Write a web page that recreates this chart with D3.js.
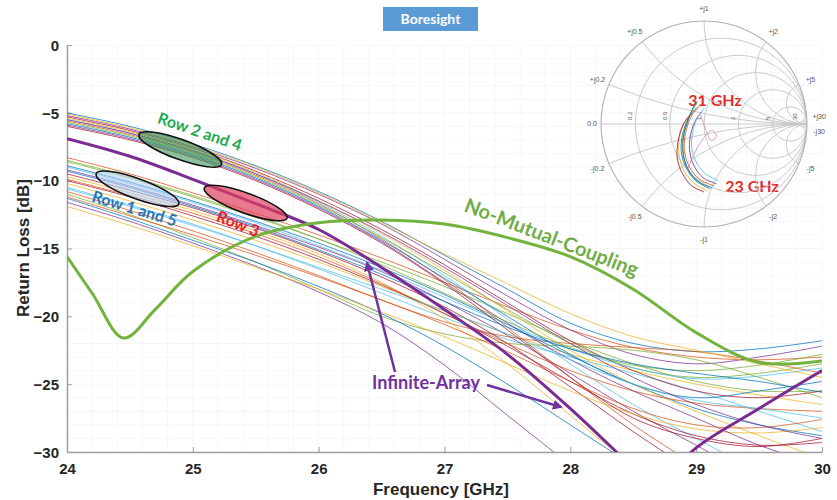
<!DOCTYPE html>
<html>
<head>
<meta charset="utf-8">
<script src="https://d3js.org/d3.v7.min.js"></script>
<style>
  body { margin: 0; background: #fff; }
  svg text { font-family: "Liberation Sans Narrow", "Arial Narrow", "Liberation Sans", sans-serif; }
  .note { font-family: Lato, "Open Sans", sans-serif; font-weight: bold; }
</style>
</head>
<body>
<svg id="chart" width="837" height="500"></svg>
<script>
// frequency samples (GHz) used by the thin element curves
const freqs = [24, 24.5, 25, 25.5, 26, 26.5, 27, 27.5, 28, 28.5, 29, 29.5, 30];

// rows 2 and 4 (upper bundle)
const rowTwoFour = [
  [-5.0, -6.0, -7.3, -8.9, -10.8, -13.0, -15.5, -18.0, -20.5, -22.0, -22.6, -22.4, -21.8],
  [-5.2, -6.2, -7.5, -9.1, -11.0, -13.2, -15.8, -18.5, -21.0, -22.8, -23.5, -23.0, -22.2],
  [-5.3, -6.3, -7.6, -9.3, -11.3, -13.6, -16.2, -19.0, -21.8, -24.0, -25.5, -26.0, -25.5],
  [-5.4, -6.4, -7.7, -9.4, -11.5, -13.9, -16.6, -19.6, -22.5, -25.0, -27.0, -28.8, -30.5],
  [-5.5, -6.5, -7.8, -9.5, -11.6, -14.1, -17.0, -20.2, -23.5, -26.5, -29.0, -31.5, -34.0],
  [-5.6, -6.6, -7.9, -9.6, -11.7, -14.3, -17.3, -20.8, -24.5, -28.0, -31.0, -34.0, -36.0],
  [-5.7, -6.7, -8.0, -9.7, -11.8, -14.2, -16.8, -19.5, -22.0, -23.8, -24.5, -24.2, -23.5],
  [-5.8, -6.8, -8.1, -9.8, -11.9, -14.4, -17.2, -20.0, -22.8, -25.0, -26.0, -25.5, -24.8],
  [-5.9, -6.9, -8.2, -9.9, -12.0, -14.5, -17.5, -20.5, -23.2, -25.5, -27.5, -29.5, -31.0],
  [-6.0, -7.0, -8.3, -10.0, -12.1, -14.6, -17.6, -21.0, -24.5, -27.5, -29.0, -29.6, -29.0],
  [-5.1, -6.1, -7.4, -9.0, -10.9, -13.1, -15.4, -17.6, -19.8, -21.5, -22.5, -23.5, -24.5],
  [-5.5, -6.5, -7.8, -9.5, -11.5, -13.8, -16.4, -19.2, -22.0, -24.5, -26.5, -28.0, -29.0]
];

// rows 1 and 5 (middle bundle)
const rowOneFive = [
  [-8.3, -9.5, -10.9, -12.4, -14.0, -15.7, -17.5, -19.3, -21.0, -22.3, -23.0, -23.2, -23.0],
  [-8.6, -9.8, -11.2, -12.7, -14.3, -16.0, -17.8, -19.8, -21.8, -23.5, -24.8, -25.5, -25.5],
  [-8.9, -10.1, -11.5, -13.0, -14.6, -16.4, -18.4, -20.6, -22.9, -25.0, -26.8, -28.0, -28.8],
  [-9.2, -10.4, -11.8, -13.3, -14.9, -16.7, -18.9, -21.4, -24.2, -27.0, -29.5, -32.0, -34.0],
  [-9.5, -10.7, -12.0, -13.5, -15.2, -17.1, -19.3, -22.0, -25.2, -28.5, -31.5, -34.0, -36.0],
  [-9.7, -10.9, -12.2, -13.7, -15.4, -17.5, -20.2, -23.5, -27.3, -31.0, -34.0, -36.0, -38.0],
  [-9.0, -10.2, -11.6, -13.1, -14.8, -16.6, -18.6, -20.6, -22.4, -23.8, -24.6, -24.4, -23.8],
  [-9.9, -11.1, -12.4, -13.9, -15.6, -17.6, -19.8, -22.0, -24.0, -25.5, -26.4, -26.8, -27.0],
  [-8.5, -9.7, -11.1, -12.6, -14.3, -16.2, -18.3, -20.4, -22.3, -23.6, -24.0, -23.6, -22.8],
  [-9.3, -10.5, -11.9, -13.4, -15.1, -16.9, -18.9, -20.8, -22.4, -23.5, -24.2, -24.8, -25.6]
];

// row 3 and remaining elements (lower bundle)
const rowThree = [
  [-10.2, -11.5, -12.9, -14.4, -16.0, -17.8, -19.6, -21.3, -22.8, -24.0, -25.0, -25.8, -26.5],
  [-10.5, -11.8, -13.2, -14.8, -16.5, -18.3, -20.1, -21.7, -23.0, -24.2, -25.5, -27.0, -28.5],
  [-10.8, -12.2, -13.7, -15.3, -17.0, -18.8, -20.4, -21.5, -22.0, -22.3, -22.6, -23.3, -24.2],
  [-11.0, -12.5, -14.2, -16.0, -18.0, -20.0, -21.3, -22.0, -22.2, -22.5, -23.2, -24.5, -26.0],
  [-11.3, -12.8, -14.4, -16.0, -17.8, -19.8, -22.2, -25.0, -28.0, -31.0, -34.0, -36.0, -38.0],
  [-11.6, -13.0, -14.6, -16.3, -18.2, -20.5, -23.6, -27.3, -31.0, -35.0, -38.0, -40.0, -42.0],
  [-10.0, -11.2, -12.6, -14.1, -15.8, -17.7, -19.8, -22.2, -24.8, -27.2, -28.8, -29.5, -29.3],
  [-11.9, -13.3, -14.8, -16.4, -18.0, -19.7, -21.5, -23.5, -25.5, -27.2, -28.3, -28.6, -28.2],
  [-10.6, -11.9, -13.3, -14.8, -16.4, -18.0, -19.6, -21.3, -23.2, -25.0, -26.2, -26.8, -27.5],
  [-11.2, -12.6, -14.0, -15.5, -17.1, -18.8, -20.6, -22.6, -24.8, -26.8, -28.0, -28.2, -27.6]
];

// single element, no mutual coupling
const ncFreqs = [24, 24.2, 24.45, 24.7, 25, 25.5, 26, 26.5, 27, 27.5, 28, 28.5, 29, 29.5, 30];
const noCoupling = [-15.6, -18.3, -21.6, -19.5, -16.7, -14.1, -13.1, -12.9, -13.2, -14.2, -15.6, -18.0, -21.2, -23.4, -23.3];

// infinite array
const iaFreqs = [24, 24.5, 25, 25.5, 26, 26.5, 27, 27.5, 28, 28.4, 28.7, 28.96, 29.5, 30];
const infiniteArray = [-6.9, -8.2, -9.9, -11.7, -13.6, -16.4, -19.5, -22.8, -26.8, -30.3, -33, -30, -26.8, -24.0];

const xTicks = [24, 25, 26, 27, 28, 29, 30];
const yTicks = [0, -5, -10, -15, -20, -25, -30];

// smith chart inset: reflection coefficient traces [re, im], 23 -> 31 GHz
const smithCurves = [
  [[0.06, -0.63], [-0.08, -0.55], [-0.17, -0.43], [-0.22, -0.27], [-0.21, -0.11], [-0.15, 0.06], [-0.07, 0.16]],
  [[0.10, -0.60], [-0.04, -0.54], [-0.14, -0.42], [-0.19, -0.26], [-0.18, -0.09], [-0.12, 0.08], [-0.04, 0.18]],
  [[0.04, -0.65], [-0.09, -0.58], [-0.19, -0.46], [-0.24, -0.31], [-0.24, -0.14], [-0.18, 0.03], [-0.10, 0.14]],
  [[0.12, -0.58], [-0.01, -0.52], [-0.10, -0.40], [-0.14, -0.25], [-0.13, -0.10], [-0.08, 0.04], [-0.02, 0.12]],
  [[0.02, -0.61], [-0.10, -0.52], [-0.18, -0.38], [-0.21, -0.22], [-0.19, -0.06], [-0.13, 0.10], [-0.06, 0.22]],
  [[0.14, -0.55], [0.01, -0.48], [-0.08, -0.36], [-0.12, -0.22], [-0.11, -0.08], [-0.07, 0.05], [0.00, 0.15]],
  [[0.00, -0.66], [-0.12, -0.60], [-0.21, -0.48], [-0.26, -0.33], [-0.25, -0.16], [-0.20, 0.00], [-0.12, 0.10]],
  [[0.08, -0.62], [-0.05, -0.56], [-0.15, -0.45], [-0.20, -0.30], [-0.20, -0.13], [-0.16, 0.02], [-0.09, 0.20]],
  [[-0.16, -0.45], [-0.10, -0.30], [-0.02, -0.16], [0.08, -0.06], [0.12, -0.12], [0.07, -0.16], [0.02, -0.06], [-0.04, 0.10]]
];
const smithR = [0.2, 0.5, 1, 2, 5, 30];
const smithX = [0.2, 0.5, 1, 2, 5, 30];

const palette = ["#0072BD", "#D95319", "#EDB120", "#7E2F8E", "#77AC30", "#4DBEEE", "#A2142F"];

const svg = d3.select("#chart");
const x = d3.scaleLinear().domain([24, 30]).range([67, 822]);
const y = d3.scaleLinear().domain([-30, 0]).range([452, 45]);

// faint grid
const grid = svg.append("g");
grid.selectAll("line.vx").data(d3.range(24, 30.01, 0.2))
  .join("line").attr("x1", d => x(d)).attr("x2", d => x(d)).attr("y1", 45).attr("y2", 452)
  .attr("stroke", "#f6f6f6");
grid.selectAll("line.hy").data(d3.range(-30, 0.01, 1))
  .join("line").attr("x1", 67).attr("x2", 822).attr("y1", d => y(d)).attr("y2", d => y(d))
  .attr("stroke", "#f6f6f6");

svg.append("clipPath").attr("id", "plot")
  .append("rect").attr("x", 67).attr("y", 45).attr("width", 755).attr("height", 407);

// axes
const xAxis = svg.append("g").attr("transform", "translate(0,452)")
  .call(d3.axisBottom(x).tickValues(xTicks).tickFormat(d3.format("d")).tickSizeInner(-5).tickSizeOuter(0));
const yAxis = svg.append("g").attr("transform", "translate(67,0)")
  .call(d3.axisLeft(y).tickValues(yTicks).tickFormat(d3.format("d")).tickSizeInner(-5).tickSizeOuter(0));
[xAxis, yAxis].forEach(a => {
  a.select(".domain").attr("stroke", "#a0a0a0").attr("stroke-width", 1.5);
  a.selectAll(".tick line").attr("stroke", "#a0a0a0");
  a.selectAll("text").attr("fill", "#262626").style("font-size", "15px").style("font-weight", "bold");
});
xAxis.selectAll("text").attr("dy", "1.25em");
yAxis.selectAll("text").attr("x", -8).attr("dy", "0.35em");

svg.append("text").attr("x", 441).attr("y", 495).attr("text-anchor", "middle")
  .style("font-size", "17px").style("font-weight", "bold").attr("fill", "#262626")
  .text("Frequency [GHz]");
svg.append("text").attr("transform", "translate(29,248) rotate(-90)").attr("text-anchor", "middle")
  .style("font-size", "17px").style("font-weight", "bold").attr("fill", "#262626")
  .text("Return Loss [dB]");

// curves
const line = d3.line().curve(d3.curveCatmullRom.alpha(0.5));
const plot = svg.append("g").attr("clip-path", "url(#plot)");

const thin = [];
for (let i = 0; i < 12; i++) {
  if (rowTwoFour[i]) thin.push(rowTwoFour[i]);
  if (rowOneFive[i]) thin.push(rowOneFive[i]);
  if (rowThree[i]) thin.push(rowThree[i]);
}
plot.selectAll("path.elem").data(thin).join("path")
  .attr("fill", "none")
  .attr("stroke", (d, i) => palette[i % palette.length])
  .attr("stroke-width", 1)
  .attr("stroke-opacity", 0.75)
  .attr("d", vals => line(vals.map((v, j) => [x(freqs[j]), y(v)])));

plot.append("path").attr("fill", "none").attr("stroke", "#7b2c92").attr("stroke-width", 3)
  .attr("d", line(infiniteArray.map((v, j) => [x(iaFreqs[j]), y(v)])));
plot.append("path").attr("fill", "none").attr("stroke", "#72b33d").attr("stroke-width", 3)
  .attr("d", line(noCoupling.map((v, j) => [x(ncFreqs[j]), y(v)])));

// row ellipses
const ellipses = [
  { f: 24.9, v: -7.7, fill: "#3d9a5c", op: 0.6 },
  { f: 24.56, v: -10.6, fill: "#b4d0ee", op: 0.6 },
  { f: 25.42, v: -11.65, fill: "#e0405e", op: 0.7 }
];
svg.selectAll("ellipse.row").data(ellipses).join("ellipse")
  .attr("transform", d => `translate(${x(d.f)},${y(d.v)}) rotate(20)`)
  .attr("rx", 44).attr("ry", 10)
  .attr("fill", d => d.fill).attr("fill-opacity", d => d.op)
  .attr("stroke", "#111").attr("stroke-width", 1.6);

const notes = [
  { t: "Row 2 and 4", px: 198, py: 137, a: 19, c: "#1fa951", s: 16 },
  { t: "Row 1 and 5", px: 133, py: 214, a: 17, c: "#2e75b6", s: 16 },
  { t: "Row 3", px: 236, py: 229, a: 22, c: "#e8202a", s: 16 },
  { t: "No-Mutual-Coupling", px: 549, py: 244, a: 21, c: "#70ad47", s: 20 },
  { t: "Infinite-Array", px: 426, py: 389, a: 0, c: "#7030a0", s: 18 },
  { t: "31 GHz", px: 715, py: 106, a: 0, c: "#e02b2b", s: 16 },
  { t: "23 GHz", px: 752, py: 192, a: 0, c: "#e02b2b", s: 16 }
];
svg.selectAll("text.note").data(notes).join("text").attr("class", "note")
  .attr("transform", d => `translate(${d.px},${d.py}) rotate(${d.a})`)
  .attr("text-anchor", "middle").attr("fill", d => d.c)
  .style("font-size", d => d.s + "px").text(d => d.t);

// arrows
svg.append("defs").append("marker").attr("id", "head")
  .attr("viewBox", "0 0 10 10").attr("refX", 8).attr("refY", 5)
  .attr("markerWidth", 4).attr("markerHeight", 4).attr("orient", "auto")
  .append("path").attr("d", "M0,0L10,5L0,10z").attr("fill", "#7030a0");
const arrows = [[395, 372, 367, 263], [487, 385, 561, 407]];
svg.selectAll("line.arrow").data(arrows).join("line")
  .attr("x1", d => d[0]).attr("y1", d => d[1]).attr("x2", d => d[2]).attr("y2", d => d[3])
  .attr("stroke", "#7030a0").attr("stroke-width", 2.5).attr("marker-end", "url(#head)");

// boresight tag
svg.append("rect").attr("x", 383).attr("y", 7).attr("width", 95).attr("height", 24).attr("fill", "#5b9bd5");
svg.append("text").attr("class", "note").attr("x", 430.5).attr("y", 24).attr("text-anchor", "middle")
  .attr("fill", "#fff").style("font-size", "14px").text("Boresight");

// smith chart inset
const gx = d3.scaleLinear().domain([-1, 1]).range([601, 807]);
const gy = d3.scaleLinear().domain([-1, 1]).range([227, 21]);
const R = 103;
const smith = svg.append("g");
smith.append("clipPath").attr("id", "disk")
  .append("circle").attr("cx", gx(0)).attr("cy", gy(0)).attr("r", R);
const sg = smith.append("g").attr("clip-path", "url(#disk)").attr("fill", "none")
  .attr("stroke", "#c4c4c4").attr("stroke-width", 0.9);
sg.selectAll("circle.r").data(smithR).join("circle")
  .attr("cx", r => gx(r / (1 + r))).attr("cy", gy(0)).attr("r", r => R / (1 + r));
sg.selectAll("circle.x").data(smithX.concat(smithX.map(v => -v))).join("circle")
  .attr("cx", gx(1)).attr("cy", v => gy(1 / v)).attr("r", v => R / Math.abs(v));
sg.append("line").attr("x1", gx(-1)).attr("x2", gx(1)).attr("y1", gy(0)).attr("y2", gy(0));
smith.append("circle").attr("cx", gx(0)).attr("cy", gy(0)).attr("r", R)
  .attr("fill", "none").attr("stroke", "#b0b0b0").attr("stroke-width", 1.1);

const lbl = { fill: "#555", size: "7px" };
const xl = smithX.flatMap(v => [v, -v]);
smith.selectAll("text.xl").data(xl).join("text")
  .attr("x", v => { const g = (v * v - 1) / (v * v + 1); return gx(0) + g * R * 1.12; })
  .attr("y", v => { const g = 2 * v / (v * v + 1); return gy(0) - g * R * 1.12; })
  .attr("dy", "0.35em").attr("text-anchor", "middle")
  .attr("fill", lbl.fill).style("font-size", lbl.size)
  .text(v => (v > 0 ? "+j" : "-j") + Math.abs(v));
smith.append("text").attr("x", gx(-1) - 4).attr("y", gy(0)).attr("dy", "0.35em")
  .attr("text-anchor", "end").attr("fill", lbl.fill).style("font-size", lbl.size).text("0.0");
smith.selectAll("text.rl").data(smithR).join("text")
  .attr("transform", r => `translate(${gx((r - 1) / (r + 1)) - 3},${gy(0) - 4}) rotate(-90)`)
  .attr("fill", lbl.fill).style("font-size", "6px").text(r => r);

const sline = d3.line().curve(d3.curveCatmullRom.alpha(0.5));
smith.selectAll("path.trace").data(smithCurves).join("path")
  .attr("fill", "none")
  .attr("stroke", (d, i) => i === smithCurves.length - 1 ? "#d98fb0" : palette[i % palette.length])
  .attr("stroke-width", 1).attr("stroke-opacity", 0.85)
  .attr("d", pts => sline(pts.map(p => [gx(p[0]), gy(p[1])])));
</script>
</body>
</html>
